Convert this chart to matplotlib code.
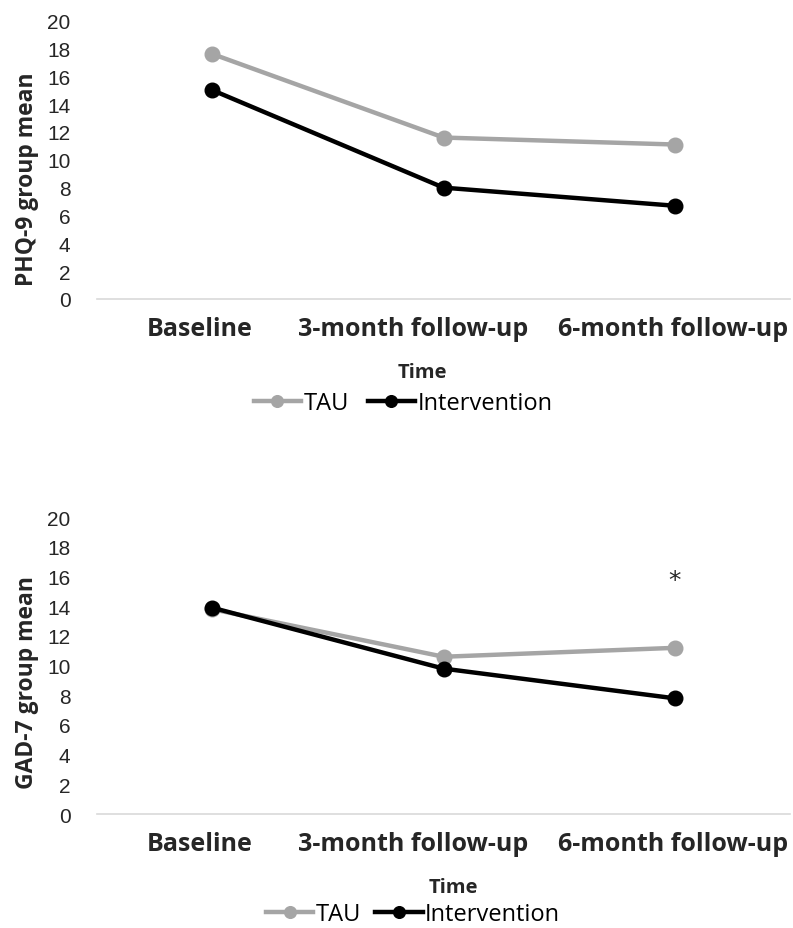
"""Two-panel line chart: PHQ-9 and GAD-7 group means over time, TAU vs intervention."""

import matplotlib

matplotlib.use("Agg")
import matplotlib.pyplot as plt

# Data.
time_points = ["Baseline", "3-month follow-up", "6-month follow-up"]
phq9_tau = [17.6, 11.6, 11.1]
phq9_intervention = [15.0, 8.0, 6.7]
gad7_tau = [13.8, 10.6, 11.2]
gad7_intervention = [13.9, 9.8, 7.8]
y_ticks = list(range(0, 21, 2))

TAU_COLOR = "#a5a5a5"
INT_COLOR = "#000000"
TEXT_COLOR = "#262626"

LABEL_FONT = ["Open Sans", "DejaVu Sans"]
TICK_FONT = ["Liberation Sans Narrow", "Liberation Sans", "DejaVu Sans"]

# Excel nudges the long category labels left so they do not collide (points).
LABEL_SHIFT_PT = [-9.4, -21.6, -1.4]


def draw_panel(ax, tau, intervention, ylabel, ylabel_y, time_xy,
               legend_xy, col_space):
    x = list(range(len(time_points)))
    ax.plot(x, tau, color=TAU_COLOR, linewidth=3.2, marker="o",
            markersize=10.5, label="TAU")
    ax.plot(x, intervention, color=INT_COLOR, linewidth=3.2, marker="o",
            markersize=10.5, label="Intervention")
    ax.set_xlim(-0.5, len(time_points) - 0.5)
    ax.set_ylim(0, 20)
    ax.set_yticks(y_ticks)
    ax.set_yticklabels([str(v) for v in y_ticks], family=TICK_FONT,
                       fontsize=15, color=TEXT_COLOR)
    ax.set_xticks(x)
    ax.tick_params(axis="x", labelbottom=False)
    # category labels drawn by hand so they can be nudged like in Excel
    for xi, name, dx in zip(x, time_points, LABEL_SHIFT_PT):
        ax.annotate(name, xy=(xi, 0), xycoords=("data", "axes fraction"),
                    xytext=(dx, -12), textcoords="offset points",
                    ha="center", va="top", family=LABEL_FONT, fontsize=18,
                    fontweight="bold", color=TEXT_COLOR)
    ax.tick_params(axis="both", length=0)
    ax.tick_params(axis="y", pad=19)
    for side in ("top", "right", "left"):
        ax.spines[side].set_visible(False)
    ax.spines["bottom"].set_color("#d9d9d9")
    ax.spines["bottom"].set_linewidth(1.2)

    ax.set_ylabel(ylabel, family=LABEL_FONT, fontsize=16.5,
                  fontweight="bold", color=TEXT_COLOR)
    ax.yaxis.set_label_coords(-0.084, ylabel_y)

    ax.set_xlabel("Time", family=LABEL_FONT, fontsize=14.5,
                  fontweight="bold", color=TEXT_COLOR)
    ax.xaxis.label.set_verticalalignment("center")
    ax.xaxis.set_label_coords(*time_xy)

    ax.legend(loc="center", bbox_to_anchor=legend_xy, ncol=2,
              frameon=False, handlelength=2.0, handletextpad=0.1,
              columnspacing=col_space, markerscale=0.8, borderpad=0,
              prop={"family": LABEL_FONT, "size": 17})
    return ax


fig = plt.figure(figsize=(7.93, 9.29), dpi=100)
ax_top = fig.add_axes([0.1223, 0.6771, 0.874, 0.2996])
ax_bot = fig.add_axes([0.1223, 0.1227, 0.874, 0.3194])

draw_panel(ax_top, phq9_tau, phq9_intervention, "PHQ-9 group mean",
           0.435, (0.469, -0.262), (0.4416, -0.373), 0.8)
draw_panel(ax_bot, gad7_tau, gad7_intervention, "GAD-7 group mean",
           0.448, (0.514, -0.246), (0.456, -0.337), 0.6)

# Significance marker above the 6-month follow-up in the GAD-7 panel.
ax_bot.text(2, 15.8, "*", ha="center", va="center", fontsize=18,
            color=TEXT_COLOR)

fig.savefig("out.png", dpi=100)
